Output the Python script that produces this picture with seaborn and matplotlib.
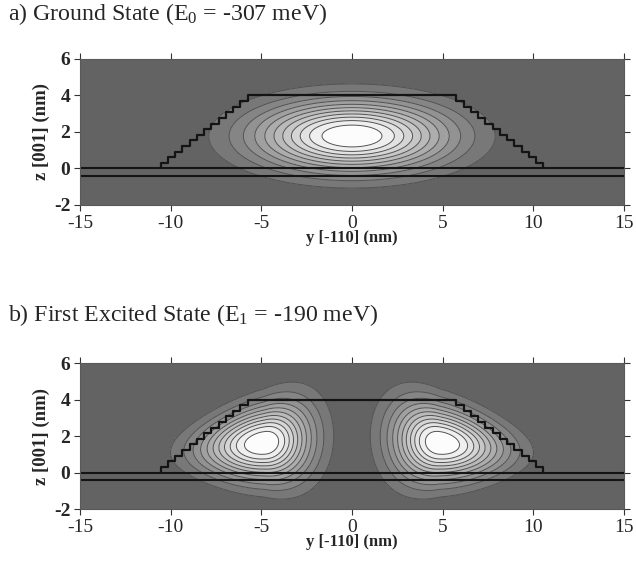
import numpy as np
import matplotlib
matplotlib.use("Agg")
import matplotlib.pyplot as plt
import seaborn as sns

# axes
y_ticks = [-15, -10, -5, 0, 5, 10, 15]
z_ticks = [-2, 0, 2, 4, 6]
titles = [r"a) Ground State ($\mathrm{E_0}$ = -307 meV)",
          r"b) First Excited State ($\mathrm{E_1}$ = -190 meV)"]

# dot cross-section (nm)
dot_base_half = 10.55
dot_height = 4.0
dot_steps = 13
dot_step_width = 0.40
wetting_layer = [0.0, -0.4]

# ground state envelope (centre y,z / widths y,z)
ground_center = [0.0, 1.78]
ground_width = [3.6, 1.3]

# first excited state lobes
excited_peak = [4.85, 1.62]
excited_width_y = [1.75, 2.35]         # inner side, outer side
excited_width_z = [1.35, 0.15, 0.08]   # at peak, growth inward, shrink outward
excited_tilt = 0.1

levels = [0.09, 0.17, 0.25, 0.33, 0.41, 0.49, 0.57, 0.65, 0.73, 0.81, 0.9, 1.01]

sns.set_theme(style="ticks")
plt.rcParams["font.family"] = ["Liberation Serif", "DejaVu Serif"]
plt.rcParams["mathtext.fontset"] = "custom"
plt.rcParams["mathtext.rm"] = "Liberation Serif"
plt.rcParams["axes.unicode_minus"] = False

yy = np.linspace(-15, 15, 601)
zz = np.linspace(-2, 6, 321)
Y, Z = np.meshgrid(yy, zz)

ground = np.exp(-0.5 * ((Y - ground_center[0]) / ground_width[0]) ** 2
                - 0.5 * ((Z - ground_center[1]) / ground_width[1]) ** 2)

A = np.abs(Y)
a = excited_peak[0]
sy = np.where(A < a, excited_width_y[0], excited_width_y[1])
sz = np.where(A < a, excited_width_z[0] + excited_width_z[1] * (a - A),
              excited_width_z[0] - excited_width_z[2] * (A - a))
sz = np.clip(sz, 0.3, None)
zc = excited_peak[1] - excited_tilt * (A - a)
excited = np.exp(-0.5 * ((A - a) / sy) ** 2 - 0.5 * ((Z - zc) / sz) ** 2)

# stepped dot outline
dz = dot_height / dot_steps
left_y = np.repeat(-dot_base_half + np.arange(dot_steps) * dot_step_width, 2)
left_z = np.repeat(np.arange(dot_steps + 1) * dz, 2)[1:-1]
out_y = np.concatenate([left_y, -left_y[::-1]])
out_z = np.concatenate([left_z, left_z[::-1]])

band_colors = [str(v) for v in np.linspace(0.47, 0.99, len(levels) - 1)]

fig = plt.figure(figsize=(6.36, 5.65), dpi=100)
positions = [[0.1258, 0.6372, 0.8553, 0.2584], [0.1258, 0.0991, 0.8553, 0.2584]]
title_y = [0.975, 0.443]

for i, field in enumerate([ground, excited]):
    ax = fig.add_axes(positions[i])
    ax.set_facecolor("0.39")
    ax.contourf(Y, Z, field, levels=levels, colors=band_colors)
    ax.contour(Y, Z, field, levels=levels[:-1], colors="0.32", linewidths=0.7)
    sns.lineplot(x=out_y, y=out_z, sort=False, estimator=None, color="0.08",
                 linewidth=1.6, ax=ax)
    for wl in wetting_layer:
        ax.axhline(wl, color="0.08", linewidth=1.5)
    ax.set_xlim(-15, 15)
    ax.set_ylim(-2, 6)
    ax.set_xticks(y_ticks)
    ax.set_yticks(z_ticks)
    ax.tick_params(direction="out", length=4, width=0.8, top=True, right=True,
                   labelsize=14, color="0.2", pad=3)
    for lab in ax.get_yticklabels():
        lab.set_fontweight("bold")
    for s in ax.spines.values():
        s.set_linewidth(0.8)
        s.set_color("0.35")
    ax.set_xlabel("y [-110] (nm)", fontsize=12, fontweight="bold", labelpad=-1)
    ax.set_ylabel("z [001] (nm)", fontsize=13.5, fontweight="bold", labelpad=3)
    fig.text(0.012, title_y[i], titles[i], fontsize=17.2, va="center", ha="left")

fig.savefig("out.png", dpi=100)
